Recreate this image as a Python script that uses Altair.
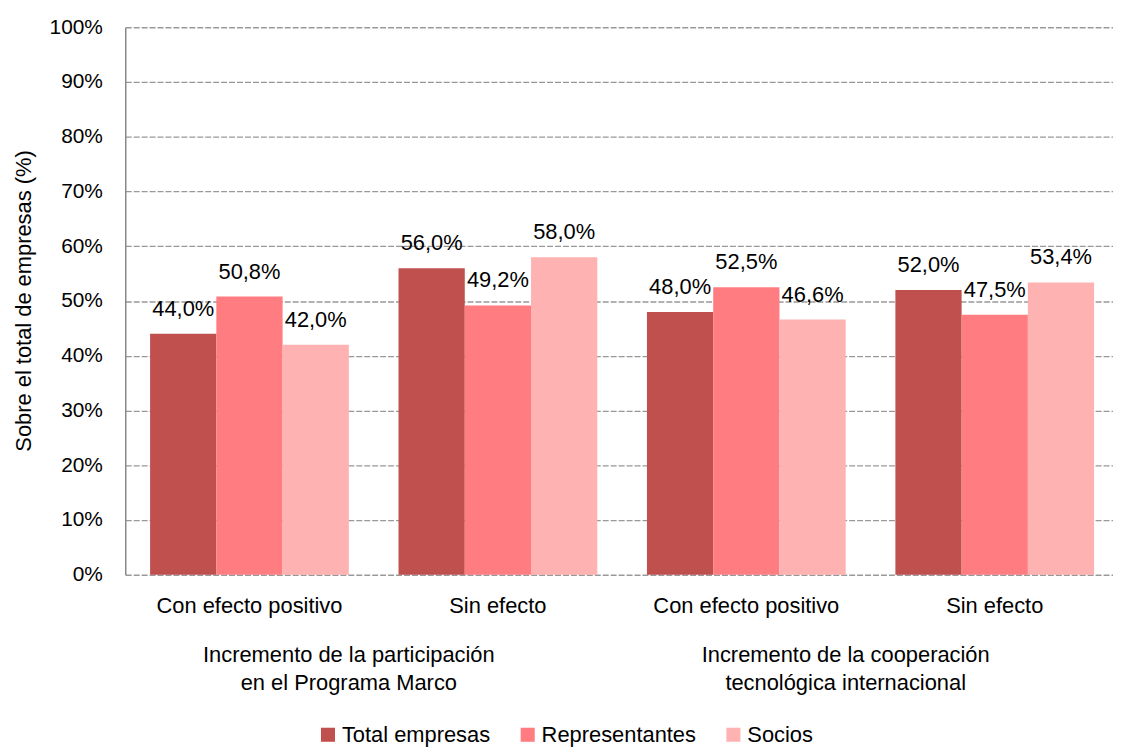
import altair as alt
import pandas as pd

groups = ["Incremento de la participación\nen el Programa Marco",
          "Incremento de la cooperación\ntecnológica internacional"]
subcats = ["Con efecto positivo", "Sin efecto"]
series = ["Total empresas", "Representantes", "Socios"]
colors = ["#C0504D", "#FF7C80", "#FFB2B2"]

total = [44.0, 56.0, 48.0, 52.0]
representantes = [50.8, 49.2, 52.5, 47.5]
socios = [42.0, 58.0, 46.6, 53.4]

keys = []
for gi, g in enumerate(groups):
    for s in subcats:
        keys.append(f"{gi}|{s}")

rows = []
for si, vals in enumerate([total, representantes, socios]):
    for k, v in zip(keys, vals):
        rows.append({"key": k, "serie": series[si], "value": v})
df = pd.DataFrame(rows)

gdf = pd.DataFrame({"key": [f"{gi}|{subcats[0]}" for gi in range(len(groups))],
                    "grp": groups})

FONT = "Liberation Sans"

x = alt.X("key:N", sort=keys, title=None,
          scale=alt.Scale(paddingInner=0.2, paddingOuter=0.1, range=[0, 1000]),
          axis=alt.Axis(labelExpr="split(datum.label,'|')[1]", labelAngle=0,
                        domain=False, ticks=False, labelPadding=21,
                        labelFontSize=22, labelFont=FONT, labelColor="#000",
                        labelLimit=400))
xo = alt.XOffset("serie:N", sort=series)

y = alt.Y("value:Q", scale=alt.Scale(domain=[0, 100]),
          axis=alt.Axis(values=list(range(0, 101, 10)), labelExpr="datum.value + '%'",
                        title="Sobre el total de empresas (%)", titleFont=FONT,
                        titleFontSize=22, titleFontWeight="normal", titleColor="#000",
                        titleX=-102, titleY=275, titleAngle=270, titleAlign="center",
                        titleBaseline="middle",
                        labelFont=FONT, labelFontSize=21, labelColor="#000",
                        ticks=False, labelPadding=23,
                        domain=True, domainColor="#888", domainWidth=1.5,
                        grid=True, gridColor="#999", gridDash=[6, 2], gridWidth=1.3))

color = alt.Color("serie:N", sort=series,
                  scale=alt.Scale(domain=series, range=colors),
                  legend=alt.Legend(title=None, orient="none", direction="horizontal",
                                    legendX=193, legendY=701,
                                    symbolType="square", symbolSize=200,
                                    symbolStrokeWidth=0, labelFont=FONT,
                                    labelFontSize=22, labelColor="#000",
                                    columnPadding=26, labelOffset=3, labelLimit=300))

bars = alt.Chart(df).mark_bar().encode(x=x, xOffset=xo, y=y, color=color)

labels = alt.Chart(df).transform_calculate(
    lab="replace(format(datum.value, '.1f'), '.', ',') + '%'"
).mark_text(baseline="alphabetic", dy=-18, font=FONT, fontSize=22,
            color="#000").encode(x=x, xOffset=xo, y=y, text="lab:N")

glabels = alt.Chart(gdf).mark_text(baseline="top", lineBreak="\n", font=FONT,
                                   fontSize=22, lineHeight=28, color="#000").encode(
    x=alt.X("key:N", sort=keys, bandPosition=1),
    y=alt.value(622),
    text="grp:N")

chart = alt.layer(bars, labels, glabels).properties(
    width=994, height=551,
    autosize=alt.AutoSizeParams(type="none"),
    padding={"left": 118, "top": 17, "right": 0, "bottom": 176},
).configure_view(stroke=None)

chart.save("out.html", embed_options={"renderer": "svg", "actions": False})
